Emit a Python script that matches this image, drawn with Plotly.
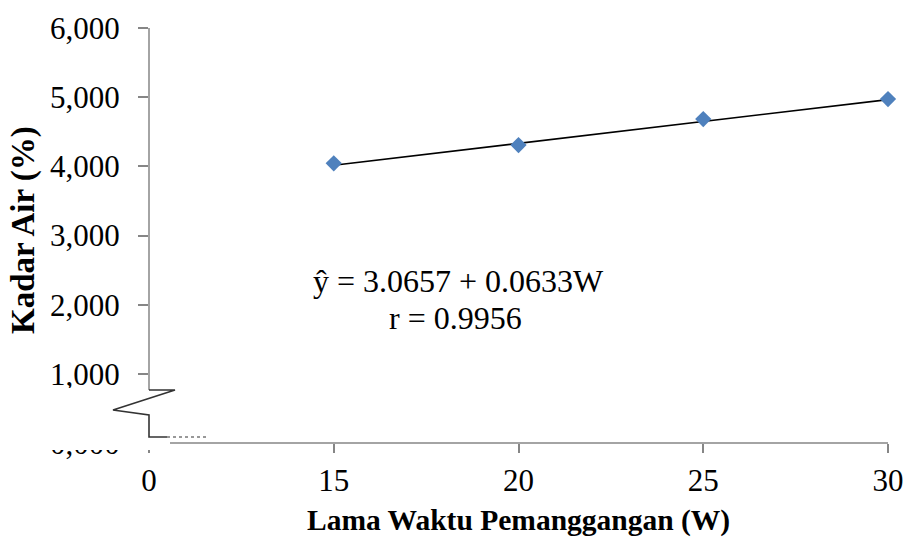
import plotly.graph_objects as go

# Lama waktu pemanggangan (W) and measured kadar air
waktu = [15, 20, 25, 30]
kadar_air = [4.044, 4.308, 4.684, 4.973]

# Fitted regression  y = a + bW
intercept = 3.0657
slope = 0.0633
r_value = 0.9956

x_ticks = [10, 15, 20, 25, 30]
x_tick_text = ["0", "15", "20", "25", "30"]
y_ticks = [0, 1, 2, 3, 4, 5, 6]

W_MIN, W_MAX = 10, 30
Y_MIN, Y_MAX = 0, 6

FONT = "Liberation Serif"
AXIS_GREY = "#868686"

# plot-area geometry in pixels (used to place the axis-break decoration)
L, R, T, B = 149, 18, 28, 95
WIDTH, HEIGHT = 906, 538
PW, PH = WIDTH - L - R, HEIGHT - T - B


def px(xp):
    return (xp - L) / PW


def py(yp):
    return (HEIGHT - B - yp) / PH


fit_x = [waktu[0], waktu[-1]]
fit_y = [intercept + slope * w for w in fit_x]

fig = go.Figure()
fig.add_trace(go.Scatter(
    x=fit_x, y=fit_y, mode="lines",
    line=dict(color="black", width=1.6),
    hoverinfo="skip", showlegend=False, cliponaxis=False,
))
fig.add_trace(go.Scatter(
    x=waktu, y=kadar_air, mode="markers",
    marker=dict(symbol="diamond", size=12.5, color="#4F81BD"),
    showlegend=False, cliponaxis=False,
))

shapes = []
# white patch hiding the lower part of the y axis (axis break)
shapes.append(dict(type="rect", xref="paper", yref="paper", layer="above",
                   x0=px(40), x1=px(168), y0=py(450), y1=py(388),
                   fillcolor="white", line=dict(width=0)))
# y axis line above the break
shapes.append(dict(type="line", xref="paper", yref="paper", layer="above",
                   x0=px(149), x1=px(149), y0=py(28), y1=py(390),
                   line=dict(color=AXIS_GREY, width=1.5)))
# zigzag break symbol
zig = [(149, 390), (175, 390), (113, 410), (149, 415), (149, 437), (167, 437)]
path = "M " + " L ".join(f"{px(a):.5f},{py(b):.5f}" for a, b in zig)
shapes.append(dict(type="path", xref="paper", yref="paper", layer="above",
                   path=path, line=dict(color="#333333", width=1.6)))
shapes.append(dict(type="line", xref="paper", yref="paper", layer="above",
                   x0=px(167), x1=px(207), y0=py(437), y1=py(437),
                   line=dict(color="#333333", width=1.2, dash="dot")))
# x axis line after the break
shapes.append(dict(type="line", xref="paper", yref="paper", layer="above",
                   x0=px(170), x1=px(888), y0=py(443), y1=py(443),
                   line=dict(color=AXIS_GREY, width=1.5)))

fig.update_layout(
    width=WIDTH, height=HEIGHT,
    margin=dict(l=L, r=R, t=T, b=B, autoexpand=False),
    paper_bgcolor="white", plot_bgcolor="white",
    separators=",.",
    font=dict(family=FONT, size=31, color="black"),
    shapes=shapes,
    xaxis=dict(range=[W_MIN, W_MAX], tickvals=x_ticks, ticktext=x_tick_text,
               automargin=False,
               showline=False, showgrid=False, zeroline=False,
               ticks="outside", ticklen=9, tickwidth=1.5, tickcolor=AXIS_GREY,
               ticklabelstandoff=1,
               tickfont=dict(family=FONT, size=31, color="black")),
    yaxis=dict(range=[Y_MIN, Y_MAX], tickvals=y_ticks, tickformat=".3f",
               automargin=False,
               showline=False, showgrid=False, zeroline=False,
               ticks="outside", ticklen=10, tickwidth=1.5, tickcolor=AXIS_GREY,
               ticklabelstandoff=12,
               tickfont=dict(family=FONT, size=31, color="black")),
    annotations=[
        dict(xref="paper", yref="paper", x=px(518), y=py(520),
             xanchor="center", yanchor="middle", showarrow=False,
             text="<b>Lama Waktu Pemanggangan (W)</b>",
             font=dict(family=FONT, size=29.5, color="black")),
        dict(xref="paper", yref="paper", x=px(23), y=py(230),
             xanchor="center", yanchor="middle", showarrow=False, textangle=-90,
             text="<b>Kadar Air (%)</b>",
             font=dict(family=FONT, size=33, color="black")),
        dict(xref="paper", yref="paper", x=px(458), y=py(281),
             xanchor="center", yanchor="middle", showarrow=False,
             text=f"ŷ = {intercept:.4f} + {slope:.4f}W",
             font=dict(family=FONT, size=32, color="black")),
        dict(xref="paper", yref="paper", x=px(455), y=py(318),
             xanchor="center", yanchor="middle", showarrow=False,
             text=f"r = {r_value:.4f}",
             font=dict(family=FONT, size=32, color="black")),
    ],
)

fig.write_html("out.html")
